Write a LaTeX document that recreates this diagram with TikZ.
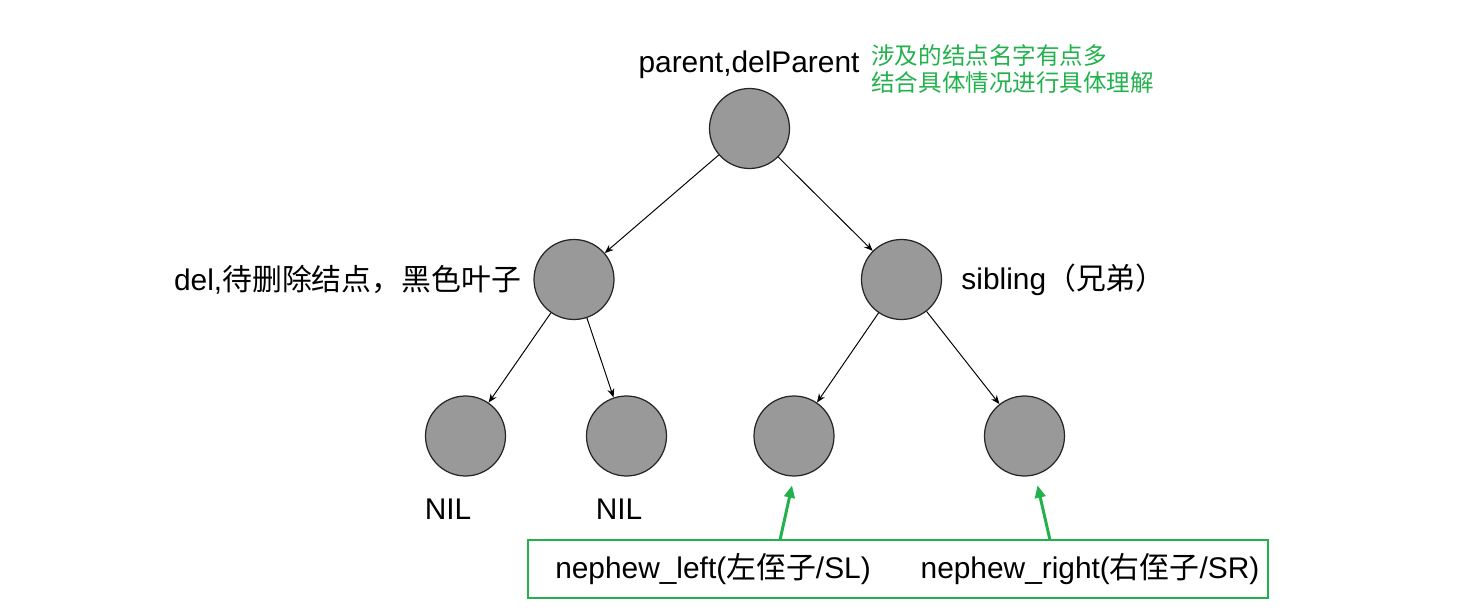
\documentclass[tikz,border=0pt]{standalone}
\usepackage{fontspec}
\setmainfont{Liberation Sans}
\newfontfamily\cjk{Noto Sans CJK SC}
\usetikzlibrary{arrows.meta,positioning}
\definecolor{notegreen}{RGB}{34,177,76}

\begin{document}
\begin{tikzpicture}[
  font=\fontsize{17}{20}\selectfont,
  rb/.style={draw=black!85, fill=black!40, circle, minimum size=1.6cm, inner sep=0pt, line width=0.7pt},
  link/.style={-{Stealth[length=5pt,width=4pt]}, line width=0.55pt},
  hint/.style={-{Triangle[length=7pt,width=6pt]}, draw=notegreen, fill=notegreen, line width=1.7pt},
  lbl/.style={inner sep=0pt}
]
\useasboundingbox (0,0) rectangle (29.66,-12.3);
% tree
\node[rb] (par) at (14.99,-2.57) {};
\node[rb] (del) at (11.48,-5.59) {};
\node[rb] (sib) at (18.03,-5.59) {};
\node[rb] (l1) at (9.31,-8.72) {};
\node[rb] (l2) at (12.53,-8.72) {};
\node[rb] (l3) at (15.88,-8.72) {};
\node[rb] (l4) at (20.49,-8.72) {};
\draw[link] (par) -- (del);
\draw[link] (par) -- (sib);
\draw[link] (del) -- (l1);
\draw[link] (del) -- (l2);
\draw[link] (sib) -- (l3);
\draw[link] (sib) -- (l4);
% labels
\node[lbl, anchor=base] (parlbl) at (14.98,-1.46) {parent,delParent};
\node[lbl, left=0.24cm of del] (dellbl) {del,{\cjk 待删除结点，黑色叶子}};
\node[lbl, right=0.38cm of sib] (siblbl) {sibling{\cjk （兄弟）}};
\node[lbl, anchor=base] (nil1) at (8.96,-10.38) {NIL};
\node[lbl, anchor=base] (nil2) at (12.38,-10.38) {NIL};
\node[lbl, anchor=west, align=left, text=notegreen, font=\cjk\fontsize{13.4}{15.9}\selectfont] (note) at (17.42,-1.38) {涉及的结点名字有点多\\结合具体情况进行具体理解};
% nephews
\node[draw=notegreen, line width=1.1pt, minimum width=14.8cm, minimum height=1.16cm] (nbox) at (17.96,-11.38) {};
\node[lbl, anchor=base] (sl) at (14.26,-11.56) {nephew\_left({\cjk 左侄子}/SL)};
\node[lbl, anchor=base] (sr) at (21.8,-11.56) {nephew\_right({\cjk 右侄子}/SR)};
\coordinate (slfoot) at (15.6,-10.8);
\coordinate (srfoot) at (21.0,-10.8);
\draw[hint, shorten >=0.18cm] (slfoot) -- (l3.south);
\draw[hint, shorten >=0.18cm] (srfoot) -- ([xshift=0.22cm]l4.south);
\end{tikzpicture}
\end{document}
